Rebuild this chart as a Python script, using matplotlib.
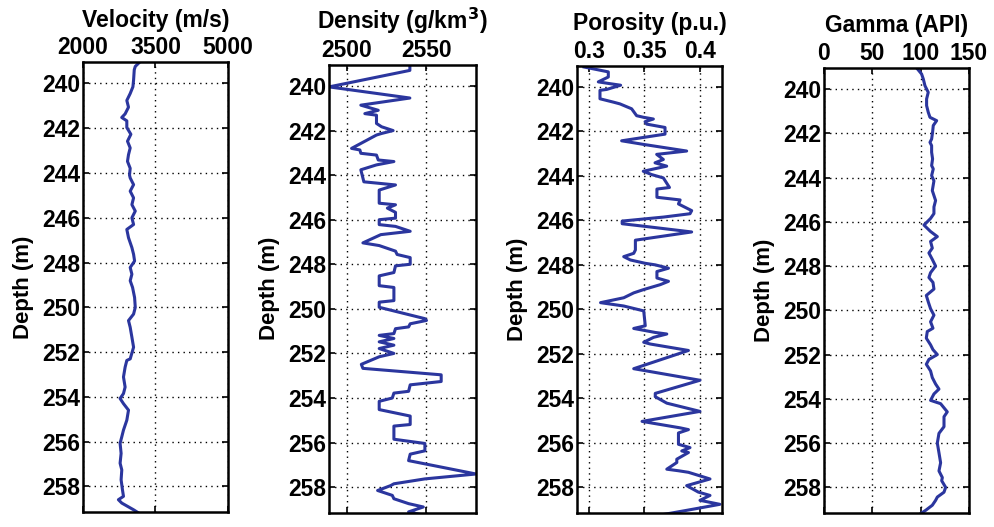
import matplotlib
matplotlib.use("Agg")
import matplotlib.pyplot as plt

plt.rcParams['font.family'] = ['Liberation Sans', 'DejaVu Sans']
plt.rcParams['font.weight'] = 'bold'

# datos: profundidad (m) y valor de cada registro
vel_depth = [239.05, 239.24, 239.39, 239.85, 240.15, 240.45, 240.76, 241.06, 241.36, 241.52,
             241.67, 241.97, 242.27, 242.58, 242.88, 243.18, 243.48, 243.79, 244.09, 244.22,
             244.52, 244.81, 245.11, 245.41, 245.70, 246.0, 246.30, 246.52, 246.89, 247.33,
             247.63, 247.93, 248.22, 248.52, 248.81, 249.11, 249.56, 250.0, 250.30, 250.59,
             250.89, 251.33, 251.78, 252.30, 252.37, 252.67, 253.11, 253.56, 253.85, 254.07,
             254.30, 254.59, 255.04, 255.48, 255.78, 256.07, 256.52, 256.96, 257.26, 257.70,
             258.15, 258.44, 258.59, 258.74, 259.04, 259.25]
vel = [3172, 3082, 3061, 3047, 3033, 2977, 2907, 2942, 2872, 2802,
       2907, 2907, 2991, 2921, 2977, 2942, 2921, 2977, 2963, 2977,
       3047, 2977, 3047, 3012, 3082, 3012, 3047, 2907, 2942, 3012,
       3047, 3068, 2977, 3012, 2977, 3026, 3068, 3082, 3047, 2942,
       2977, 3012, 3047, 2977, 2907, 2872, 2838, 2872, 2838, 2768,
       2838, 2942, 2907, 2838, 2803, 2768, 2789, 2768, 2803, 2789,
       2817, 2838, 2733, 2803, 3047, 3200]

den_depth = [239.0, 239.3, 240.04, 240.54, 240.86, 241.09, 241.24, 241.31, 241.68, 241.83,
             242.0, 242.13, 242.2, 242.8, 242.87, 243.02, 243.1, 243.32, 243.39, 243.54,
             243.76, 244.3, 244.44, 244.67, 245.26, 245.33, 245.48, 245.67, 245.93, 246.0,
             246.22, 246.3, 246.52, 246.67, 247.04, 247.16, 247.41, 247.56, 247.7, 248.0,
             248.07, 248.37, 248.52, 248.96, 249.04, 249.63, 249.7, 249.93, 250.44, 250.52,
             250.67, 250.81, 250.89, 251.11, 251.19, 251.33, 251.48, 251.63, 251.78, 252.0,
             252.15, 252.49, 252.67, 252.96, 253.26, 253.41, 253.7, 253.78, 254.0, 254.15,
             254.52, 254.81, 255.19, 255.26, 255.85, 256.04, 256.37, 256.52, 256.81, 257.41,
             257.63, 257.85, 257.93, 258.15, 258.37, 258.52, 258.74, 258.89, 259.11, 259.41]
den = [2539.6, 2539.6, 2489.0, 2539.6, 2508.9, 2519.8, 2511.4, 2518.7, 2518.7, 2521.9,
       2529.1, 2521.9, 2518.7, 2503.1, 2508.3, 2508.9, 2518.7, 2519.8, 2529.6, 2518.7,
       2508.9, 2510.8, 2530.6, 2520.4, 2520.4, 2530.6, 2525.5, 2530.6, 2530.6, 2520.4,
       2520.4, 2530.6, 2539.8, 2521.4, 2510.2, 2520.4, 2530.6, 2531.6, 2539.8, 2539.8,
       2530.6, 2529.6, 2520.4, 2520.4, 2529.6, 2529.6, 2520.4, 2520.4, 2549.0, 2550.0,
       2539.8, 2538.8, 2530.6, 2529.6, 2520.4, 2529.6, 2520.4, 2529.6, 2520.4, 2529.6,
       2520.4, 2509.2, 2510.2, 2559.2, 2559.2, 2539.8, 2538.8, 2529.6, 2528.6, 2520.4,
       2520.4, 2539.8, 2539.8, 2529.6, 2529.6, 2549.0, 2549.0, 2539.8, 2538.8, 2581.0,
       2549.0, 2529.6, 2527.6, 2519.4, 2528.6, 2529.6, 2538.8, 2548.0, 2538.8, 2558.2]

por_depth = [239.1, 239.32, 239.55, 239.77, 239.85, 239.92, 240.11, 240.15, 240.53, 240.68,
             240.76, 240.98, 241.29, 241.36, 241.44, 241.56, 241.67, 241.82, 242.12, 242.42,
             242.58, 242.88, 243.03, 243.26, 243.41, 243.56, 243.79, 243.94, 244.09, 244.52,
             244.59, 244.96, 245.08, 245.26, 245.56, 245.70, 245.85, 246.03, 246.15, 246.27,
             246.52, 246.89, 247.33, 247.48, 247.63, 247.78, 247.93, 248.0, 248.15, 248.30,
             248.59, 248.74, 248.89, 249.11, 249.26, 249.48, 249.70, 249.85, 250.07, 250.74,
             250.86, 251.04, 251.11, 251.26, 251.48, 251.56, 251.85, 252.67, 253.19, 253.78,
             253.93, 254.22, 254.59, 255.04, 255.33, 255.41, 255.56, 256.07, 256.22, 256.37,
             256.44, 256.74, 256.89, 257.19, 257.26, 257.33, 257.63, 257.93, 258.22, 258.37,
             258.59, 258.77, 258.96, 259.48]
por = [0.2955, 0.3174, 0.3174, 0.3084, 0.3189, 0.3285, 0.3159, 0.3099, 0.3099, 0.3219,
       0.3279, 0.3384, 0.3429, 0.3489, 0.3580, 0.3505, 0.3520, 0.3685, 0.3685, 0.3294,
       0.3489, 0.3880, 0.3610, 0.3670, 0.3595, 0.3700, 0.3489, 0.3565, 0.3670, 0.3725,
       0.3612, 0.3612, 0.3821, 0.3806, 0.3925, 0.3910, 0.3672, 0.3299, 0.3299, 0.3507,
       0.3925, 0.3418, 0.3418, 0.3403, 0.3313, 0.3373, 0.3507, 0.3597, 0.3716, 0.3612,
       0.3612, 0.3716, 0.3642, 0.3493, 0.3403, 0.3313, 0.3104, 0.3313, 0.3493, 0.3507,
       0.3403, 0.3597, 0.3701, 0.3582, 0.3493, 0.3552, 0.3896, 0.3403, 0.4000, 0.3597,
       0.3597, 0.3701, 0.4000, 0.3478, 0.3821, 0.3896, 0.3806, 0.3806, 0.3910, 0.3836,
       0.3896, 0.3791, 0.3791, 0.3701, 0.3806, 0.3896, 0.4090, 0.3880, 0.3985, 0.4090,
       0.4000, 0.4179, 0.3970, 0.3388]

gam_depth = [239.05, 239.32, 239.55, 239.85, 240.15, 240.45, 240.75, 241.05, 241.28, 241.43,
             241.65, 241.95, 242.26, 242.41, 242.56, 242.86, 243.16, 243.46, 243.61, 243.91,
             244.15, 244.59, 245.04, 245.33, 245.63, 245.85, 246.15, 246.44, 246.67, 246.89,
             247.19, 247.41, 247.70, 248.0, 248.30, 248.52, 248.74, 249.04, 249.33, 249.63,
             249.93, 250.22, 250.52, 250.81, 250.96, 251.26, 251.56, 251.78, 252.0, 252.22,
             252.44, 252.74, 253.04, 253.33, 253.56, 253.78, 254.07, 254.22, 254.59, 254.81,
             255.26, 255.56, 256.0, 256.44, 256.89, 257.26, 257.56, 257.70, 258.0, 258.22,
             258.44, 258.59, 258.81, 259.04, 259.25]
gam = [95.9, 101.0, 102.8, 104.5, 107.9, 106.2, 106.2, 107.9, 109.7, 116.6,
       113.1, 112.4, 111.4, 109.7, 111.4, 111.4, 112.4, 111.4, 113.1, 111.4,
       113.8, 112.1, 115.5, 113.8, 113.8, 110.3, 103.5, 110.3, 117.3, 110.3,
       112.1, 108.6, 112.1, 115.5, 110.3, 108.6, 112.8, 113.8, 105.9, 108.0,
       110.3, 113.8, 110.3, 112.8, 106.9, 105.9, 110.3, 112.8, 117.3, 108.6,
       105.9, 110.3, 112.1, 115.5, 119.0, 113.8, 110.3, 120.7, 127.6, 124.2,
       124.2, 119.0, 117.3, 119.0, 120.7, 119.0, 122.5, 121.8, 125.9, 124.2,
       117.3, 115.5, 112.1, 105.2, 98.0]

titulos = ['Velocity (m/s)', 'Density (g/km$^3$)', 'Porosity (p.u.)', 'Gamma (API)']
xticks = [[2000, 3500, 5000], [2500, 2550], [0.3, 0.35, 0.4], [0, 50, 100, 150]]
xticklabels = [['2000', '3500', '5000'], ['2500', '2550'], ['0.3', '0.35', '0.4'], ['0', '50', '100', '150']]
xlims = [(2000, 5000), (2489, 2581), (0.2892, 0.4198), (0, 150)]
yticks = [240, 242, 244, 246, 248, 250, 252, 254, 256, 258]

fig = plt.figure(figsize=(9.95, 5.27), dpi=100)
posiciones = [[0.0834, 0.028, 0.1457, 0.854],
              [0.3307, 0.027, 0.1477, 0.850],
              [0.5799, 0.027, 0.1457, 0.848],
              [0.8281, 0.027, 0.1457, 0.844]]
datos = [(vel, vel_depth), (den, den_depth), (por, por_depth), (gam, gam_depth)]

for i in range(4):
    ax = fig.add_axes(posiciones[i])
    x, y = datos[i]
    ax.plot(x, y, color='#2b369e', lw=2.2)
    ax.set_xlim(xlims[i])
    ax.set_ylim(259.15, 239.05)
    ax.set_xticks(xticks[i])
    ax.set_xticklabels(xticklabels[i])
    ax.set_yticks(yticks)
    ax.xaxis.tick_top()
    ax.tick_params(axis='both', direction='in', length=4, width=1.2, labelsize=16.5, pad=2,
                   top=True, bottom=True, left=True, right=True, labelbottom=False)
    ax.grid(True, color='black', linestyle=(0, (1, 3)), linewidth=1)
    for s in ax.spines.values():
        s.set_linewidth(1.8)
    ax.set_title(titulos[i], fontsize=16.5, fontweight='bold', pad=7)
    ax.set_ylabel('Depth (m)', fontsize=16, fontweight='bold', labelpad=6)

fig.savefig('out.png', dpi=100)
